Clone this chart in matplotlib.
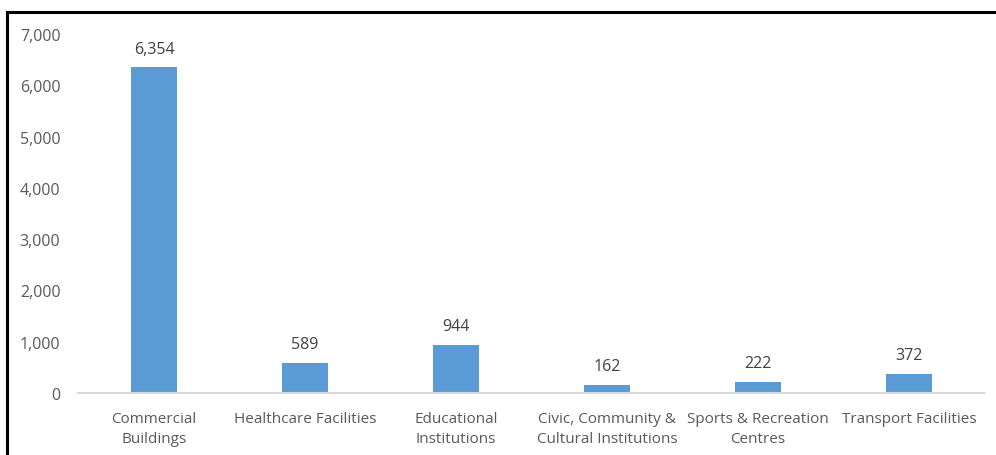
import matplotlib
matplotlib.use("Agg")
import matplotlib.pyplot as plt
from matplotlib.lines import Line2D
from matplotlib.ticker import FuncFormatter

categories = ["Commercial\nBuildings", "Healthcare Facilities", "Educational\nInstitutions",
              "Civic, Community &\nCultural Institutions", "Sports & Recreation\nCentres",
              "Transport Facilities"]
values = [6354, 589, 944, 162, 222, 372]
yticks = [0, 1000, 2000, 3000, 4000, 5000, 6000, 7000]

plt.rcParams['font.family'] = ['Open Sans', 'DejaVu Sans']
text_color = "#595959"

fig = plt.figure(figsize=(9.96, 4.56), dpi=100)
ax = fig.add_axes([0.0788, 0.136, 0.9096, 0.787])
x = list(range(len(values)))
bars = ax.bar(x, values, width=0.31, color="#5B9BD5", zorder=2)
for xi, v in zip(x, values):
    ax.annotate(f"{v:,}", (xi, v), xytext=(0, 7.5), textcoords="offset points",
                ha="center", va="bottom", fontsize=11.5, color="#404040")
ax.set_xlim(-0.5, len(values) - 0.5)
ax.set_ylim(0, 7000)
ax.set_yticks(yticks)
ax.yaxis.set_major_formatter(FuncFormatter(lambda v, p: f"{int(v):,}"))
ax.set_xticks(x)
ax.set_xticklabels(categories, fontsize=11, color=text_color, linespacing=1.42)
ax.tick_params(axis='y', labelsize=11.5, labelcolor=text_color, length=0, pad=13)
ax.tick_params(axis='x', length=0, pad=13)
for s in ["top", "right", "left"]:
    ax.spines[s].set_visible(False)
ax.spines["bottom"].set_color("#D9D9D9")
ax.spines["bottom"].set_linewidth(1.5)

# outer frame (top and left visible)
fig.add_artist(Line2D([7/996, 7/996], [0, 1 - 13/456], color="black", lw=2.2, transform=fig.transFigure))
fig.add_artist(Line2D([7/996, 1], [1 - 13/456, 1 - 13/456], color="black", lw=2.2, transform=fig.transFigure))

fig.savefig("out.png", dpi=100)
